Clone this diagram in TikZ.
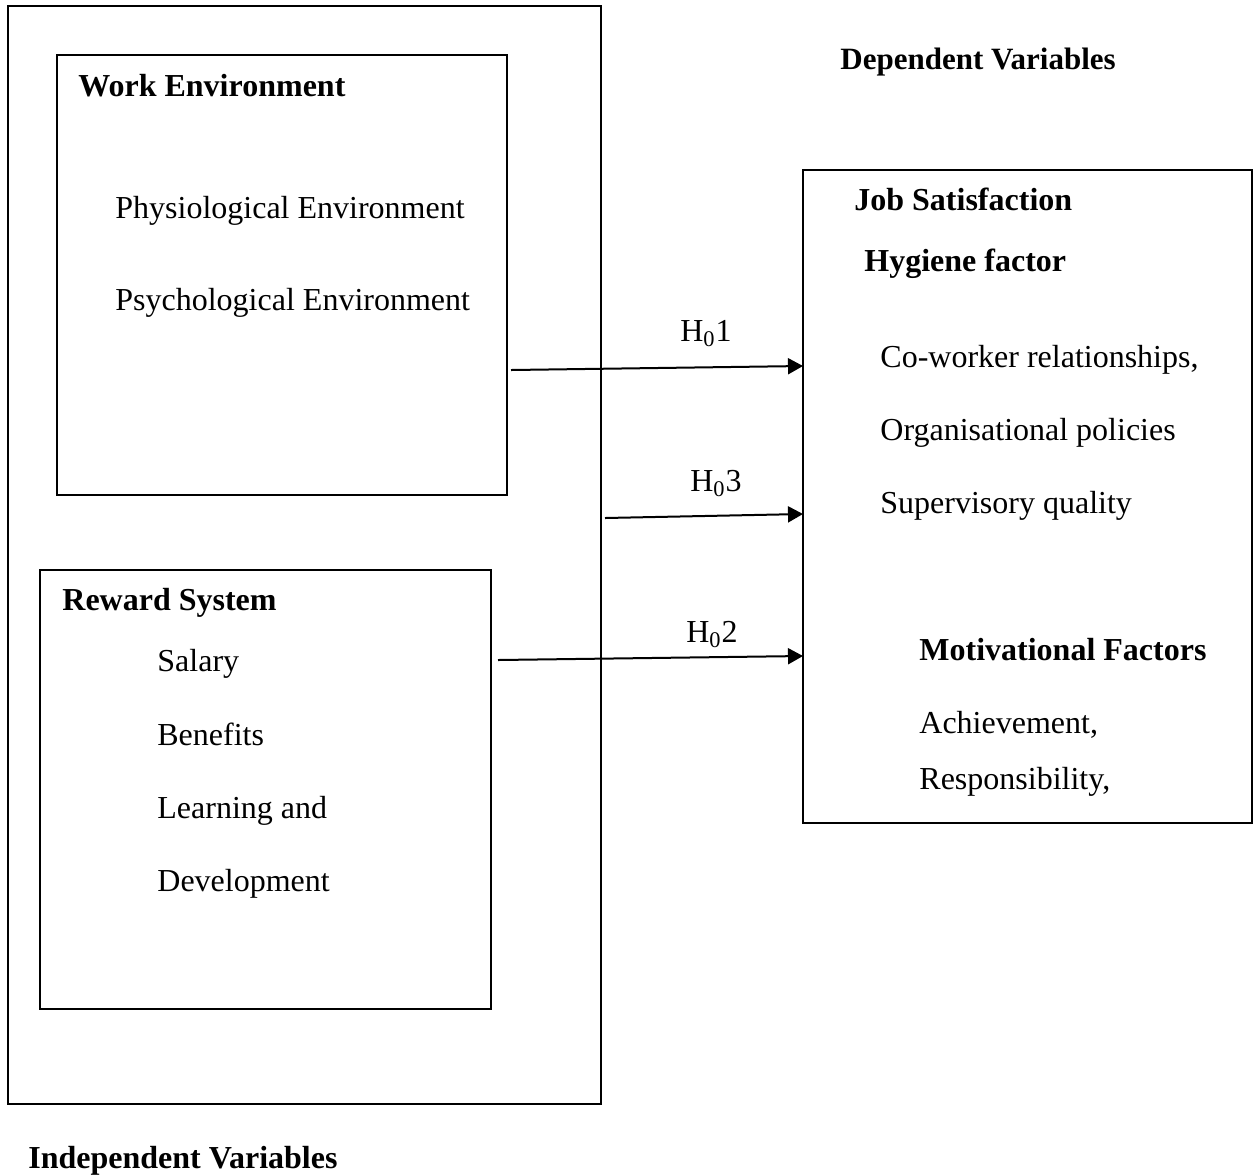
\documentclass[tikz,border=0pt]{standalone}
\usepackage{fontspec}
\setmainfont{Liberation Serif}
\usetikzlibrary{arrows.meta,fit}
\begin{document}
\begin{tikzpicture}[x=0.5pt,y=-0.5pt,
  box/.style={draw,line width=0.9pt,inner sep=0pt},
  txt/.style={anchor=base west,inner sep=0pt,font=\fontsize{16}{19}\selectfont},
  head/.style={txt,font=\fontsize{16}{19}\selectfont\bfseries},
  lab/.style={anchor=base,inner sep=0pt,font=\fontsize{16}{19}\selectfont},
  link/.style={line width=1pt,-{Triangle[length=7.5pt,width=8pt]}}]
\useasboundingbox (0,0) rectangle (1253,1175);
\node[box,fit={(8,6) (601,1104)}] (indep) {};
\node[box,fit={(57,55) (507,495)}] (work) {};
\node[box,fit={(40,570) (491,1009)}] (reward) {};
\node[box,fit={(803,170) (1252,823)}] (job) {};

\node[head] (workt) at (78,96) {Work Environment};
\node[txt] (physio) at (115,218) {Physiological Environment};
\node[txt] (psycho) at (115,310) {Psychological Environment};

\node[head] (rewardt) at (62,610) {Reward System};
\node[txt] (salary) at (157,671) {Salary};
\node[txt] (benefit) at (157,745) {Benefits};
\node[txt] (learn) at (157,818) {Learning and};
\node[txt] (develop) at (157,891) {Development};

\node[head,font=\fontsize{15.5}{18}\selectfont\bfseries] (dept) at (840,69) {Dependent Variables};
\node[head] (indept) at (28,1168) {Independent Variables};

\node[head] (jobt) at (854,210) {Job Satisfaction};
\node[head] (hyg) at (864,271) {Hygiene factor};
\node[txt] (cowork) at (880,367) {Co-worker relationships,};
\node[txt] (policy) at (880,440) {Organisational policies};
\node[txt] (superv) at (880,513) {Supervisory quality};
\node[head] (motiv) at (919,660) {Motivational Factors};
\node[txt] (achieve) at (919,733) {Achievement,};
\node[txt] (respons) at (919,789) {Responsibility,};

\coordinate (h1a) at (511,370);
\coordinate (h3a) at (605,518);
\coordinate (h2a) at (498,660);
\coordinate (h1b) at (803,366);
\coordinate (h3b) at (803,514);
\coordinate (h2b) at (803,656);
\draw[link] (h1a) -- (h1b);
\draw[link] (h3a) -- (h3b);
\draw[link] (h2a) -- (h2b);
\node[lab] (h1) at (706,341) {H\textsubscript{0}1};
\node[lab] (h3) at (716,491) {H\textsubscript{0}3};
\node[lab] (h2) at (712,642) {H\textsubscript{0}2};
\end{tikzpicture}
\end{document}
